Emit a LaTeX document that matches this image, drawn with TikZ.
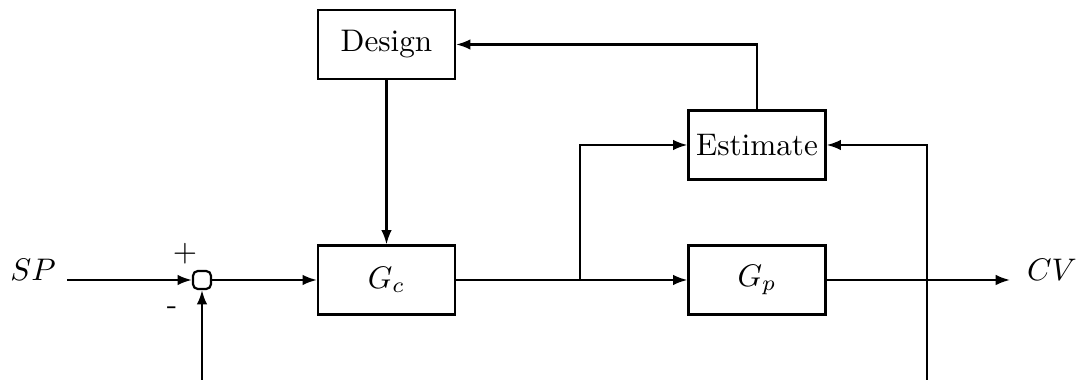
\documentclass[tikz,border=0pt]{standalone}
\usetikzlibrary{arrows.meta}
\begin{document}
\begin{tikzpicture}[x=0.3205pt,y=-0.3205pt,
  line width=0.7pt,
  blockbox/.style={draw,minimum width=43.9pt,minimum height=22.1pt,inner sep=0pt},
  sumjunc/.style={draw,rounded corners=1.6pt,minimum size=5.8pt,inner sep=0pt},
  sig/.style={-{Latex[length=4.6pt,width=3.4pt]}},
  lbl/.style={anchor=base,inner sep=0pt}]
\useasboundingbox (0,0) rectangle (1083,380);

% blocks
\node[blockbox] (design) at (386.5,44.5) {Design};
\node[blockbox] (est) at (757,145) {Estimate};
\node[blockbox] (gc) at (386.5,280) {$G_c$};
\node[blockbox] (gp) at (757,280) {$G_p$};
\node[sumjunc] (sum) at (202,280) {};

% outer signals
\node[lbl] (sp) at (33,281) {$SP$};
\node[lbl] (cv) at (1052,281) {$CV$};
\node[lbl] (plus) at (185,262) {+};
\node[lbl] (minus) at (172,315) {-};

% routing points
\coordinate (spend) at (67,280);
\coordinate (cvend) at (1010,280);
\coordinate (fb) at (202,380);
\coordinate (split) at (580,280);
\coordinate (meas) at (927,380);

% connections
\draw[sig] (spend) -- (sum);
\draw[sig] (fb) -- (sum);
\draw[sig] (sum) -- (gc);
\draw[sig] (gc) -- (gp);
\draw[sig] (gp) -- (cvend);
\draw[sig] (split) |- (est);
\draw[sig] (meas) |- (est);
\draw[sig] (est) |- (design);
\draw[sig] (design) -- (gc);
\end{tikzpicture}
\end{document}
